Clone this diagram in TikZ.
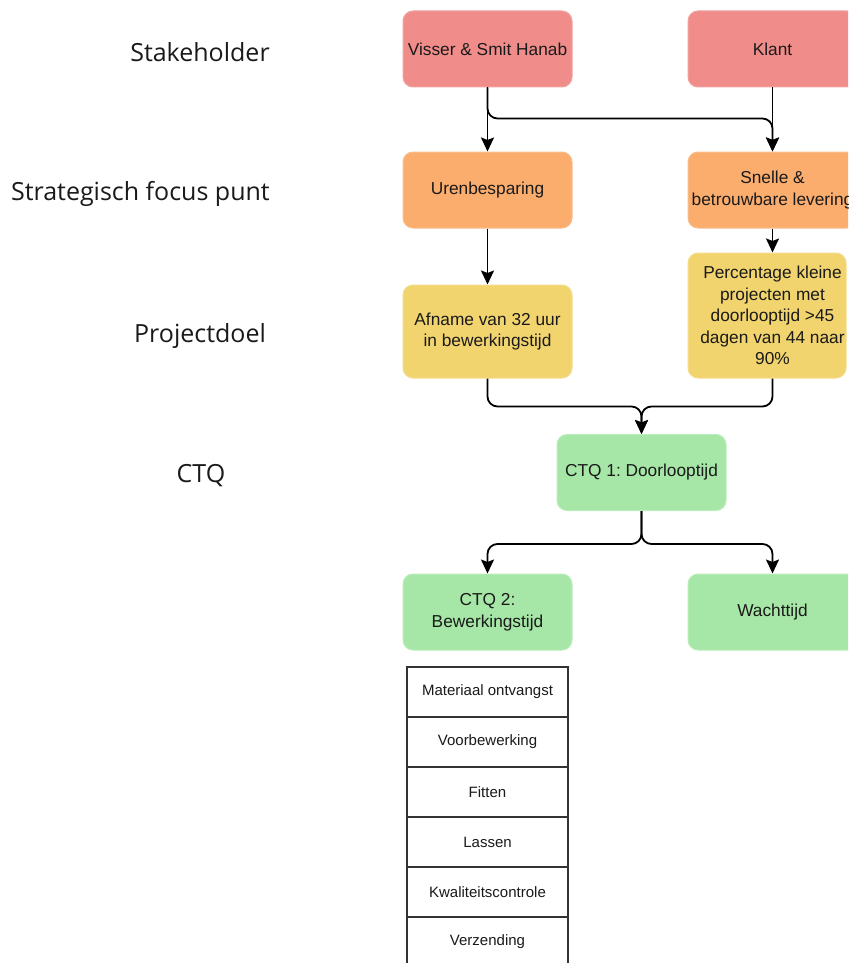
\documentclass[tikz,border=0pt]{standalone}
\usepackage{fontspec}
\setmainfont{Liberation Sans}
\newfontfamily\labelfont{Open Sans}
\usetikzlibrary{arrows.meta,calc}
\frenchspacing

\definecolor{redfill}{HTML}{F08C8A}
\definecolor{redline}{HTML}{F2A3A0}
\definecolor{orangefill}{HTML}{FBAD6E}
\definecolor{orangeline}{HTML}{F9BE8E}
\definecolor{yellowfill}{HTML}{F2D46E}
\definecolor{yellowline}{HTML}{F4DC8C}
\definecolor{greenfill}{HTML}{A6E6A6}
\definecolor{greenline}{HTML}{BCEDBC}
\definecolor{inkcol}{HTML}{1A1A1A}
\definecolor{tablecol}{HTML}{333333}

\tikzset{
  box/.style={rectangle, rounded corners=10pt, line width=1pt,
    minimum width=169pt, minimum height=76pt, inner sep=0pt,
    text=inkcol, align=center, font=\fontsize{17.3}{21.5}\selectfont},
  redbox/.style={box, fill=redfill, draw=redline},
  orangebox/.style={box, fill=orangefill, draw=orangeline},
  yellowbox/.style={box, fill=yellowfill, draw=yellowline},
  greenbox/.style={box, fill=greenfill, draw=greenline},
  boxtext/.style={text=inkcol, align=center, inner sep=0pt,
    font=\fontsize{17.3}{21.5}\selectfont},
  rowcell/.style={rectangle, draw=tablecol, line width=1.5pt, fill=white,
    minimum width=161pt, minimum height=50pt, inner sep=0pt,
    text=inkcol, font=\fontsize{15}{18}\selectfont},
  levellabel/.style={text=inkcol, inner sep=0pt,
    font=\labelfont\fontsize{25}{29}\selectfont},
  conn/.style={draw=black, line width=1.8pt, rounded corners=10pt,
    -{Stealth[length=14pt,width=13pt,inset=2.5pt]}},
}

\begin{document}
\begin{tikzpicture}[x=1pt,y=-1pt]
\path[use as bounding box, clip] (0,0) rectangle (848,963);
\fill[white] (0,0) rectangle (848,963);

% level labels
\node[levellabel] (lstake) at (200,52) {Stakeholder};
\node[levellabel, anchor=east] (lfocus) at (270,194) {Strategisch focus punt};
\node[levellabel] (lgoal) at (200,336) {Projectdoel};
\node[levellabel] (lctq) at (201,476) {CTQ};

% stakeholders
\node[redbox] (visser) at (487.5,49) {Visser \& Smit Hanab};
\node[redbox] (klant) at (772.5,49) {Klant};

% strategic focus
\node[orangebox] (uren) at (487.5,190) {Urenbesparing};
\node[orangebox] (snelle) at (772.5,190) {Snelle \&\\betrouwbare levering};

% project goals
\node[yellowbox, minimum height=93pt] (afname) at (487.5,331.5)
  {Afname van 32 uur\\in bewerkingstijd};
\node[yellowbox, minimum width=158pt, minimum height=125pt] (pct) at (767,315.5) {};
\node[boxtext] (pcttext) at (772.5,315.5)
  {Percentage kleine\\projecten met\\doorlooptijd >45\\dagen van 44 naar\\90\%};

% CTQs
\node[greenbox] (ctq1) at (641.5,472.5) {CTQ 1: Doorlooptijd};
\node[greenbox] (ctq2) at (487.5,612) {CTQ 2:\\Bewerkingstijd};
\node[greenbox] (wacht) at (772.5,612) {Wachttijd};

% process steps
\node[rowcell] (r1) at (487.5,692) {Materiaal ontvangst};
\node[rowcell] (r2) at (487.5,742) {Voorbewerking};
\node[rowcell] (r3) at (487.5,792) {Fitten};
\node[rowcell] (r4) at (487.5,842) {Lassen};
\node[rowcell] (r5) at (487.5,892) {Kwaliteitscontrole};
\node[rowcell] (r6) at (487.5,942) {Verzending};

% connectors
\draw[conn] (visser.south) -- (uren.north);
\draw[conn] (visser.south) -- ++(0,31) -| (snelle.north);
\draw[conn] (klant.south) -- (snelle.north);
\draw[conn] (uren.south) -- (afname.north);
\draw[conn] (snelle.south) -- (snelle.south |- pct.north);
\draw[conn] (afname.south) -- ++(0,28) -| (ctq1.north);
\draw[conn] (pct.south -| snelle.south) -- ++(0,28) -| (ctq1.north);
\draw[conn] (ctq1.south) -- ++(0,33) -| (ctq2.north);
\draw[conn] (ctq1.south) -- ++(0,33) -| (wacht.north);
\end{tikzpicture}
\end{document}
